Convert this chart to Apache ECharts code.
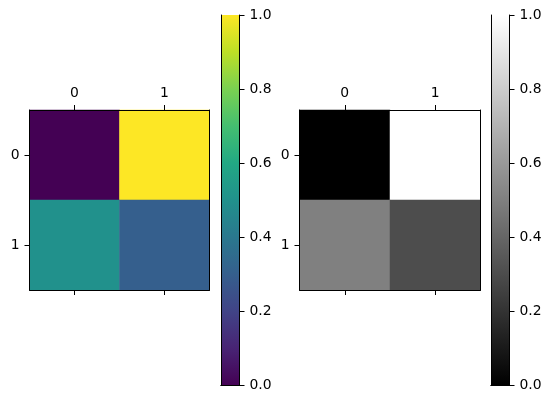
<!DOCTYPE html>
<html>
<head>
<meta charset="utf-8">
<script src="https://cdn.jsdelivr.net/npm/echarts@6/dist/echarts.min.js"></script>
<style>
  html, body { margin: 0; padding: 0; background: #fff; }
  #chart { width: 550px; height: 403px; }
</style>
</head>
<body>
<div id="chart"></div>
<script>
// matrix shown in both panels (row, col)
const rowLabels = ['0', '1']
const colLabels = ['0', '1']
const matrix = [
  [0.0, 1.0],
  [0.5, 0.3]
]
const cbarTicks = [0, 0.2, 0.4, 0.6, 0.8, 1.0]

const viridis = ['#440154', '#482475', '#414487', '#355f8d', '#2a788e', '#21918c',
  '#22a884', '#44bf70', '#7ad151', '#bddf26', '#fde725']
const gray = ['#000000', '#ffffff']

const font = 'DejaVu Sans'
const fs = 13.9
const black = '#000'

// heatmap cells: [col, row, value]
const cells = []
matrix.forEach((row, r) => row.forEach((v, c) => cells.push([c, r, v])))

function gradient (colors) {
  return {
    type: 'linear', x: 0, y: 1, x2: 0, y2: 0,
    colorStops: colors.map((c, i) => ({ offset: i / (colors.length - 1), color: c }))
  }
}

const lineStyle = { color: black, width: 1 }
const label = { color: black, fontFamily: font, fontSize: fs, margin: 10 }
const tick = { show: true, alignWithLabel: true, interval: 0, length: 5, lineStyle }

let grids = []
let xAxes = []
let yAxes = []
let series = []
let visualMaps = []

function addPanel (left, width, cbLeft, colors) {
  // matrix panel
  const g = grids.length
  grids.push({ left: left, top: 110, width: width, height: 180 })
  xAxes.push({
    gridIndex: g, type: 'category', data: colLabels, position: 'top', z: 5,
    axisLine: { show: true, lineStyle }, axisTick: tick,
    axisLabel: label, splitLine: { show: false }
  })
  xAxes.push({
    gridIndex: g, type: 'category', data: colLabels, position: 'bottom', z: 5,
    axisLine: { show: true, lineStyle }, axisTick: tick,
    axisLabel: { show: false }, splitLine: { show: false }
  })
  const xi = xAxes.length - 2
  yAxes.push({
    gridIndex: g, type: 'category', data: rowLabels, inverse: true, position: 'left', z: 5,
    axisLine: { show: true, lineStyle }, axisTick: tick,
    axisLabel: label, splitLine: { show: false }
  })
  yAxes.push({
    gridIndex: g, type: 'category', data: rowLabels, inverse: true, position: 'right', z: 5,
    axisLine: { show: true, lineStyle }, axisTick: { show: false }, axisLabel: { show: false },
    splitLine: { show: false }
  })
  const yi = yAxes.length - 2
  visualMaps.push({
    show: false, type: 'continuous', min: 0, max: 1, seriesIndex: series.length,
    inRange: { color: colors }
  })
  series.push({
    type: 'heatmap', xAxisIndex: xi, yAxisIndex: yi, data: cells, silent: true
  })

  // colorbar
  const cg = grids.length
  grids.push({ left: cbLeft, top: 15, width: 18.5, height: 370 })
  xAxes.push({
    gridIndex: cg, type: 'category', data: ['c'], position: 'bottom', z: 5,
    axisLine: { show: true, lineStyle }, axisTick: { show: false }, axisLabel: { show: false }
  })
  xAxes.push({
    gridIndex: cg, type: 'category', data: ['c'], position: 'top', z: 5,
    axisLine: { show: true, lineStyle }, axisTick: { show: false }, axisLabel: { show: false }
  })
  const cxi = xAxes.length - 2
  yAxes.push({
    gridIndex: cg, type: 'value', min: 0, max: 1, interval: 0.2, position: 'right', z: 5,
    axisLine: { show: true, lineStyle }, axisTick: { show: true, length: 5, lineStyle },
    axisLabel: Object.assign({}, label, { formatter: v => v.toFixed(1) }),
    splitLine: { show: false }
  })
  yAxes.push({
    gridIndex: cg, type: 'value', min: 0, max: 1, position: 'left', z: 5,
    axisLine: { show: true, lineStyle }, axisTick: { show: false }, axisLabel: { show: false },
    splitLine: { show: false }
  })
  const cyi = yAxes.length - 2
  series.push({
    type: 'bar', xAxisIndex: cxi, yAxisIndex: cyi, data: [cbarTicks[cbarTicks.length - 1]],
    barWidth: '100%', silent: true, itemStyle: { color: gradient(colors) }
  })
}

addPanel(29.5, 180, 221, viridis)
addPanel(299.5, 181, 491, gray)

const chart = echarts.init(document.getElementById('chart'))
chart.setOption({
  animation: false,
  backgroundColor: '#fff',
  textStyle: { fontFamily: font },
  grid: grids,
  xAxis: xAxes,
  yAxis: yAxes,
  visualMap: visualMaps,
  series: series
})
</script>
</body>
</html>
